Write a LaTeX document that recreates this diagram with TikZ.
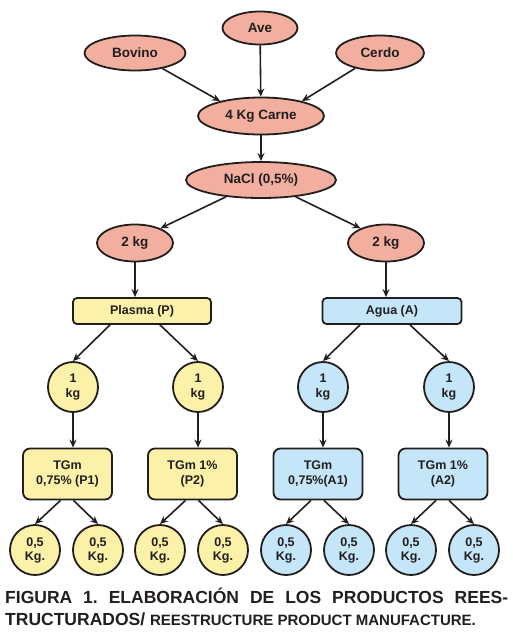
\documentclass[tikz,border=0pt]{standalone}
\usepackage{fontspec}
\setmainfont{Liberation Sans}
\usetikzlibrary{positioning,shapes.geometric,arrows.meta}

\definecolor{carnefill}{RGB}{242,175,160}
\definecolor{plasmafill}{RGB}{252,241,168}
\definecolor{aguafill}{RGB}{196,230,248}
\definecolor{trazo}{RGB}{34,30,30}

\begin{document}
\frenchspacing
\begin{tikzpicture}[x=1pt, y=-1pt,
    base/.style={draw=trazo, line width=1.8pt, inner sep=0pt, align=center,
        font=\fontsize{12.5}{15}\selectfont\bfseries, text=trazo},
    oval/.style={base, ellipse, fill=carnefill, font=\fontsize{13.5}{15}\selectfont\bfseries},
    plasmabox/.style={base, rectangle, rounded corners=4pt, fill=plasmafill},
    aguabox/.style={base, rectangle, rounded corners=4pt, fill=aguafill},
    tgm/.style={minimum width=89pt, minimum height=51pt, rounded corners=7pt},
    plasmacirc/.style={base, circle, minimum size=50pt, fill=plasmafill},
    aguacirc/.style={base, circle, minimum size=50pt, fill=aguafill},
    flecha/.style={draw=trazo, line width=1.6pt, -{Stealth[length=8pt,width=7pt]}}
]
    \useasboundingbox (0,0) rectangle (513,641);
    % Materias primas
    \node[oval, minimum width=75pt, minimum height=33pt] (ave) at (260,28) {Ave};
    \node[oval, minimum width=101pt, minimum height=35pt] (bovino) at (135,53) {Bovino};
    \node[oval, minimum width=88pt, minimum height=35pt] (cerdo) at (380,53) {Cerdo};
    \node[oval, minimum width=126pt, minimum height=37pt] (carne) at (261,116) {4 Kg Carne};
    \node[oval, minimum width=150pt, minimum height=36pt] (nacl) at (261,180) {NaCl (0,5\%)};
    \node[oval, minimum width=76pt, minimum height=37pt] (kgP) at (135,243) {2 kg};
    \node[oval, minimum width=76pt, minimum height=37pt] (kgA) at (386,243) {2 kg};
    % Tratamientos
    \node[plasmabox, minimum width=138pt, minimum height=26pt] (plasma) at (142,311) {Plasma (P)};
    \node[aguabox, minimum width=139pt, minimum height=26pt] (agua) at (392,311) {Agua (A)};
    \node[plasmacirc] (kP1) at (73,387) {1\\kg};
    \node[plasmacirc] (kP2) at (198,387) {1\\kg};
    \node[aguacirc] (kA1) at (323,387) {1\\kg};
    \node[aguacirc] (kA2) at (449,387) {1\\kg};
    \node[plasmabox, tgm] (tgP1) at (67.5,474) {TGm\\0,75\% (P1)};
    \node[plasmabox, tgm] (tgP2) at (192.5,474) {TGm 1\%\\(P2)};
    \node[aguabox, tgm] (tgA1) at (318,474) {TGm\\0,75\%(A1)};
    \node[aguabox, tgm] (tgA2) at (443,474) {TGm 1\%\\(A2)};
    % Productos finales
    \foreach \n/\x/\s in {p1/35/plasmacirc, p2/98/plasmacirc, p3/160/plasmacirc, p4/223/plasmacirc,
                          a1/286/aguacirc, a2/349/aguacirc, a3/411/aguacirc, a4/474/aguacirc}
        \node[\s, font=\fontsize{12.5}{14}\selectfont\bfseries] (m\n) at (\x,550) {0,5\\Kg.};
    % Flechas
    \draw[flecha] (bovino) -- (carne.160);
    \draw[flecha] (ave) -- (carne);
    \draw[flecha] (cerdo) -- (carne.20);
    \draw[flecha] (carne) -- (nacl);
    \draw[flecha] (nacl) -- (kgP.30);
    \draw[flecha] (nacl) -- (kgA.150);
    \draw[flecha] (kgP) -- (kgP |- plasma.north);
    \draw[flecha] (kgA) -- (kgA |- agua.north);
    \draw[flecha] ([xshift=-32]plasma.south) -- (kP1.north);
    \draw[flecha] ([xshift=18]plasma.south) -- (kP2.north);
    \draw[flecha] ([xshift=-32]agua.south) -- (kA1.north);
    \draw[flecha] ([xshift=18]agua.south) -- (kA2.north);
    \draw[flecha] (kP1) -- (kP1 |- tgP1.north);
    \draw[flecha] (kP2) -- (kP2 |- tgP2.north);
    \draw[flecha] (kA1) -- (kA1 |- tgA1.north);
    \draw[flecha] (kA2) -- (kA2 |- tgA2.north);
    \draw[flecha] ([xshift=-7]tgP1.south) -- (mp1.north);
    \draw[flecha] ([xshift=6]tgP1.south) -- (mp2.north);
    \draw[flecha] ([xshift=-7]tgP2.south) -- (mp3.north);
    \draw[flecha] ([xshift=6]tgP2.south) -- (mp4.north);
    \draw[flecha] ([xshift=-7]tgA1.south) -- (ma1.north);
    \draw[flecha] ([xshift=6]tgA1.south) -- (ma2.north);
    \draw[flecha] ([xshift=-7]tgA2.south) -- (ma3.north);
    \draw[flecha] ([xshift=6]tgA2.south) -- (ma4.north);
    % Pie de figura
    \node[anchor=north west, inner sep=0pt, text width=503pt, align=justify,
          font=\fontsize{17.5}{22}\selectfont\bfseries, text=trazo] (pie) at (5,588)
        {FIGURA 1. ELABORACIÓN DE LOS PRODUCTOS REES-\linebreak
         TRUCTURADOS/ {\fontsize{15}{22}\selectfont REESTRUCTURE PRODUCT MANUFACTURE.}};
\end{tikzpicture}
\end{document}
